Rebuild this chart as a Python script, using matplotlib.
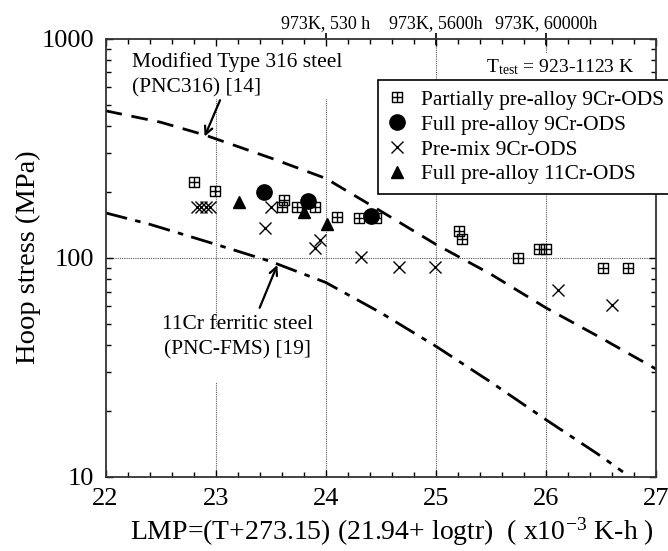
import numpy as np
import matplotlib.pyplot as plt
from matplotlib.path import Path
from matplotlib.patches import Rectangle
from matplotlib.ticker import FuncFormatter, NullFormatter

plt.rcParams['font.family'] = ['Liberation Serif', 'DejaVu Serif']
plt.rcParams['mathtext.fontset'] = 'stix'

# Creep rupture data (LMP x1e-3, hoop stress MPa)
partial_lmp = [22.80, 22.99, 23.62, 23.60, 23.74, 23.90, 24.10, 24.30, 24.46,
               25.21, 25.24, 25.75, 25.94, 26.00, 26.52, 26.75]
partial_stress = [221, 201, 184, 171, 170, 171, 153, 151, 151,
                  132, 121, 100, 110, 110, 90, 90]

full9_lmp = [23.44, 23.84, 24.41]
full9_stress = [200, 181, 155]

premix_lmp = [22.83, 22.87, 22.91, 22.95, 23.50, 23.45, 23.90, 23.95,
              24.32, 24.67, 24.99, 26.11, 26.60]
premix_stress = [171, 171, 171, 171, 171, 136, 111, 120,
                 101, 91, 91, 71, 60.5]

full11_lmp = [23.21, 23.80, 24.01]
full11_stress = [180, 162, 142]

# Reference steels
pnc316_lmp = [22.0, 22.5, 22.9, 23.5, 24.0, 24.5, 25.0, 25.5, 26.0, 26.5, 27.0]
pnc316_stress = [468, 415, 363, 285, 230, 163, 115, 84, 59, 43, 31]

fms_lmp = [22.0, 22.4, 23.0, 23.5, 24.0, 24.5, 25.0, 25.5, 26.0, 26.5, 26.7]
fms_stress = [160, 142, 115, 96, 77, 56, 39.4, 27, 18.2, 12.4, 10.5]

top_ticks = [24, 25, 26]
top_labels = ['973K, 530 h', '973K, 5600h', '973K, 60000h']

# square with a centre cross
boxplus = Path([(-1, -1), (1, -1), (1, 1), (-1, 1), (-1, -1),
                (0, -1), (0, 1), (-1, 0), (1, 0)],
               [Path.MOVETO, Path.LINETO, Path.LINETO, Path.LINETO, Path.CLOSEPOLY,
                Path.MOVETO, Path.LINETO, Path.MOVETO, Path.LINETO])

fig = plt.figure(figsize=(6.68, 5.51), dpi=100)
ax = fig.add_axes([0.158, 0.135, 0.824, 0.795])
ax.set_yscale('log')
ax.set_xlim(22, 27)
ax.set_ylim(10, 1000)

grid_kw = dict(color='0.35', lw=0.8, ls=(0, (1, 1)), zorder=1)
for gx in [23, 24, 25, 26]:
    ax.axvline(gx, **grid_kw)
ax.axhline(100, **grid_kw)

# white boxes behind the annotations
ax.add_patch(Rectangle((0.026, 0.862), 0.45, 0.136, transform=ax.transAxes,
                       fc='white', ec='none', zorder=1.5))
ax.add_patch(Rectangle((0.030, 0.2146), 0.329, 0.126, transform=ax.transAxes,
                       fc='white', ec='none', zorder=1.5))

ax.plot(pnc316_lmp, pnc316_stress, color='k', lw=2, dashes=(6, 3.5), zorder=2)
ax.plot(fms_lmp, fms_stress, color='k', lw=2, dashes=(8, 3, 2, 3), zorder=2)

ax.plot(partial_lmp, partial_stress, ls='none', marker=boxplus, ms=7,
        mfc='none', mec='k', mew=1, label='Partially pre-alloy 9Cr-ODS', zorder=3)
ax.plot(full9_lmp, full9_stress, ls='none', marker='o', ms=11,
        color='k', label='Full pre-alloy 9Cr-ODS', zorder=4)
ax.plot(premix_lmp, premix_stress, ls='none', marker='x', ms=8,
        color='k', mew=1, label='Pre-mix 9Cr-ODS', zorder=3)
ax.plot(full11_lmp, full11_stress, ls='none', marker='^', ms=9,
        color='k', label='Full pre-alloy 11Cr-ODS', zorder=4)

ax.annotate('', xy=(22.90, 357), xytext=(23.04, 523),
            arrowprops=dict(arrowstyle='->', lw=1.6, color='k',
                            shrinkA=0, shrinkB=0, mutation_scale=14), zorder=5)
ax.annotate('', xy=(23.56, 92.5), xytext=(23.40, 59),
            arrowprops=dict(arrowstyle='->', lw=1.6, color='k',
                            shrinkA=0, shrinkB=0, mutation_scale=14), zorder=5)

ax.text(0.048, 0.968, 'Modified Type 316 steel\n(PNC316) [14]', transform=ax.transAxes,
        ha='left', va='top', fontsize=15.5, linespacing=1.38, zorder=5)
ax.text(0.239, 0.368, '11Cr ferritic steel\n(PNC-FMS) [19]', transform=ax.transAxes,
        ha='center', va='top', fontsize=15.5, linespacing=1.38, zorder=5)
ax.text(0.692, 0.924, r'T$_{\mathregular{test}}$ = 923-1123 K', transform=ax.transAxes,
        ha='left', va='baseline', fontsize=14, zorder=5,
        bbox=dict(fc='white', ec='none', pad=2))

leg = ax.legend(loc='upper left', bbox_to_anchor=(0.4945, 0.905), borderaxespad=0,
                fontsize=15.5, frameon=True, fancybox=False, framealpha=1,
                edgecolor='k', borderpad=0.45, labelspacing=0.22,
                handlelength=0.85, handletextpad=0.72, numpoints=1)
leg.get_frame().set_linewidth(1.2)
leg.set_zorder(6)

ax.xaxis.set_major_locator(plt.MultipleLocator(1))
ax.xaxis.set_minor_locator(plt.MultipleLocator(0.2))
ax.yaxis.set_major_formatter(FuncFormatter(lambda v, pos: f'{v:g}'))
ax.yaxis.set_minor_formatter(NullFormatter())
ax.tick_params(which='both', direction='in', top=True, right=True,
               labelsize=19, pad=8, width=1)
ax.tick_params(which='major', length=5)
ax.tick_params(which='minor', length=3.5)
for s in ax.spines.values():
    s.set_linewidth(1.3)
    s.set_color('0.2')

sec = ax.secondary_xaxis('top')
sec.set_xticks(top_ticks, labels=top_labels)
sec.tick_params(direction='inout', length=9, width=1.2, labelsize=13, pad=0)
sec.spines['top'].set_visible(False)

ax.set_ylabel('Hoop stress (MPa)', fontsize=20.5)
ax.yaxis.set_label_coords(-0.118, 0.5)
ax.set_xlabel(r'LMP=(T+273.15) (21.94+ logtr)  ( x10$^{\mathregular{-3}}$ K-h )',
              fontsize=20)
ax.xaxis.set_label_coords(0.52, -0.088)

fig.savefig('out.png', dpi=100)
